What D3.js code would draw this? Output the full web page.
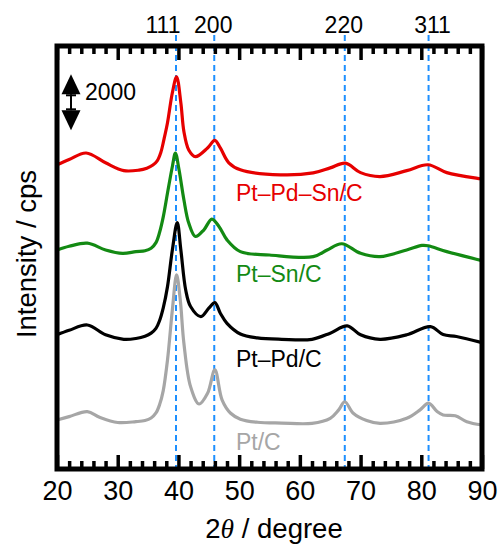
<!DOCTYPE html>
<html>
<head>
<meta charset="utf-8">
<script src="https://cdn.jsdelivr.net/npm/d3@7"></script>
<style>
  html, body { margin: 0; padding: 0; background: #fff; }
  svg { display: block; font-family: "Liberation Sans", Arial, sans-serif; }
</style>
</head>
<body>
<svg id="chart" width="502" height="547"></svg>
<script>
// XRD patterns, [2θ (degree), intensity (cps)] pairs, before stacking offsets
const ptC = [[20,1750],[22,1870],[25,2050],[27,1850],[30,1660],[33,1690],[34.5,1730],[35.5,1820],[36.3,2000],[36.9,2300],[37.5,2800],[38.2,3890],[39,5680],[39.7,6930],[40.3,6040],[40.9,4490],[42,2940],[43.4,2320],[44.8,2700],[46,3540],[47.2,2460],[48.6,1990],[50.2,1780],[53,1670],[57,1640],[62,1630],[65,1810],[66.4,2110],[67.4,2400],[68.8,1990],[71,1730],[73.2,1630],[77.6,1810],[79.8,2110],[81.2,2350],[82.6,2050],[83.6,1930],[85.6,1900],[87.5,1690],[90,1570]];
const ptPdC = [[20,1790],[22,1950],[25,2140],[28,1790],[31,1630],[33,1660],[34.5,1740],[35.5,1850],[36.3,2020],[36.9,2300],[37.5,2750],[38.2,3510],[39,4820],[39.8,5800],[40.4,4820],[41.2,3390],[42,2800],[43.7,2440],[45,2740],[46,2940],[46.9,2560],[48,2200],[50.2,1820],[53,1680],[57,1630],[62,1630],[65,1850],[67.8,2110],[70,1790],[73.2,1630],[77.6,1790],[81.5,2080],[83.6,1800],[85.8,1730],[90,1510]];
const ptSnC = [[20,1820],[22,1950],[25,2060],[28,1820],[30.8,1700],[33,1760],[34.5,1790],[35.5,1880],[36.3,2080],[36.9,2450],[37.5,3000],[38.2,3850],[39,4800],[39.5,5280],[40.1,4680],[40.9,3610],[41.7,2780],[42.8,2300],[44.2,2540],[45.5,2920],[46.7,2650],[48,2180],[50.2,1760],[55,1640],[62.2,1580],[64.5,1820],[66.9,2040],[70,1700],[73.2,1580],[77.6,1820],[80.1,1980],[81.1,1970],[84.2,1760],[90,1440]];
const ptPdSnC = [[20,1860],[22,2050],[24.8,2280],[28,1930],[31,1650],[33.5,1670],[34.8,1740],[35.8,1850],[36.5,2000],[37.1,2300],[37.6,2750],[38.2,3360],[39,4430],[39.7,5000],[40.4,4070],[40.9,3050],[41.7,2390],[42.8,2150],[44.8,2460],[46,2730],[46.9,2460],[48.3,1930],[50.2,1680],[56.8,1500],[62.2,1570],[65,1750],[67.5,1920],[70,1580],[73.2,1440],[77.6,1650],[81.1,1860],[84.2,1580],[89.7,1360],[90,1350]];

const sampleNames = ["Pt/C", "Pt–Pd/C", "Pt–Sn/C", "Pt–Pd–Sn/C"];
const sampleData = [ptC, ptPdC, ptSnC, ptPdSnC];
const stackOffsets = [0, 3000, 6000, 9000];   // cps added to each pattern
const sampleColors = ["#a6a6a6", "#000000", "#138a13", "#e60000"];

// reflection positions of fcc Pt
const reflLabels = ["111", "200", "220", "311"];
const reflAngles = [39.6, 45.9, 67.4, 81.2];

const xTicks = [20, 30, 40, 50, 60, 70, 80, 90];
const scaleBarCps = 2000;

const svg = d3.select("#chart");
const plotL = 57, plotR = 482, plotT = 46, plotB = 469;

const x = d3.scaleLinear().domain([20, 90]).range([plotL, plotR]);
const y = d3.scaleLinear().domain([0, 15100]).range([plotB, plotT]);

// dashed reflection markers
svg.append("g").selectAll("line")
  .data(reflAngles)
  .join("line")
  .attr("x1", d => x(d)).attr("x2", d => x(d))
  .attr("y1", 35).attr("y2", plotB + 2)
  .attr("stroke", "#1e90ff")
  .attr("stroke-width", 2)
  .attr("stroke-dasharray", "6,4");

const labelShift = { "111": -13, "200": -1, "220": -1, "311": 4 };
svg.append("g").selectAll("text")
  .data(reflLabels)
  .join("text")
  .attr("x", (d, i) => x(reflAngles[i]) + labelShift[d])
  .attr("y", 33)
  .attr("text-anchor", "middle")
  .attr("font-size", 23)
  .text(d => d);

// patterns
const line = d3.line()
  .x(d => x(d[0]))
  .y(d => d.yv)
  .curve(d3.curveCatmullRom.alpha(0.5));

sampleData.forEach((series, i) => {
  const pts = series.map(p => { const q = [p[0], p[1]]; q.yv = y(p[1] + stackOffsets[i]); return q; });
  svg.append("path")
    .attr("d", line(pts))
    .attr("fill", "none")
    .attr("stroke", sampleColors[i])
    .attr("stroke-width", 3.2)
    .attr("stroke-linejoin", "round");
});

// sample labels
const labelBaselines = [450, 366.5, 281.5, 201];
svg.append("g").selectAll("text")
  .data(sampleNames)
  .join("text")
  .attr("x", 236)
  .attr("y", (d, i) => labelBaselines[i])
  .attr("font-size", 23)
  .attr("fill", (d, i) => sampleColors[i])
  .text(d => d);

// ticks: major every 10°, minor every 2°, pointing inward on top and bottom
const minor = d3.range(22, 90, 2).filter(v => v % 10 !== 0);
const bottomAxis = d3.axisBottom(x).tickValues(xTicks).tickSize(-14).tickPadding(12);
const gB = svg.append("g").attr("transform", `translate(0,${plotB})`).call(bottomAxis);
gB.select(".domain").remove();
gB.selectAll("line").attr("stroke-width", 3.5);
gB.selectAll("text").attr("font-size", 27).attr("fill", "#000")
  .attr("font-family", "'Liberation Sans', Arial, sans-serif");

const gBm = svg.append("g").attr("transform", `translate(0,${plotB})`)
  .call(d3.axisBottom(x).tickValues(minor).tickSize(-8).tickFormat(""));
gBm.select(".domain").remove();
gBm.selectAll("line").attr("stroke-width", 3.5);

const gT = svg.append("g").attr("transform", `translate(0,${plotT})`)
  .call(d3.axisTop(x).tickValues(xTicks).tickSize(-14).tickFormat(""));
gT.select(".domain").remove();
gT.selectAll("line").attr("stroke-width", 3.5);
const gTm = svg.append("g").attr("transform", `translate(0,${plotT})`)
  .call(d3.axisTop(x).tickValues(minor).tickSize(-8).tickFormat(""));
gTm.select(".domain").remove();
gTm.selectAll("line").attr("stroke-width", 3.5);

// frame
svg.append("rect")
  .attr("x", plotL).attr("y", plotT)
  .attr("width", plotR - plotL).attr("height", plotB - plotT)
  .attr("fill", "none").attr("stroke", "#000").attr("stroke-width", 5);

// intensity scale bar
const barX = 71;
const barTop = y(14090), barBot = y(14090 - scaleBarCps);
const head = 20, headHalf = 9.5;
const bar = svg.append("g");
bar.append("path")
  .attr("d", `M${barX},${barTop} L${barX + headHalf},${barTop + head} L${barX - headHalf},${barTop + head} Z`)
  .attr("fill", "#000");
bar.append("path")
  .attr("d", `M${barX},${barBot} L${barX + headHalf},${barBot - head} L${barX - headHalf},${barBot - head} Z`)
  .attr("fill", "#000");
bar.append("line")
  .attr("x1", barX).attr("x2", barX)
  .attr("y1", barTop + head).attr("y2", barBot - head)
  .attr("stroke", "#000").attr("stroke-width", 2);
[barTop + head + 1, barBot - head - 1].forEach(v => {
  bar.append("line")
    .attr("x1", barX - 5).attr("x2", barX + 5)
    .attr("y1", v).attr("y2", v)
    .attr("stroke", "#000").attr("stroke-width", 2);
});
bar.append("text")
  .attr("x", 85).attr("y", 99.5)
  .attr("font-size", 23)
  .text(String(scaleBarCps));

// axis titles
const xt = svg.append("text")
  .attr("x", 274).attr("y", 538)
  .attr("text-anchor", "middle")
  .attr("font-size", 27.5);
xt.append("tspan").text("2");
xt.append("tspan")
  .attr("font-family", "'Liberation Serif', 'DejaVu Serif', serif")
  .attr("font-style", "italic")
  .text("θ");
xt.append("tspan").text(" / degree");

svg.append("text")
  .attr("transform", "translate(36,254) rotate(-90)")
  .attr("text-anchor", "middle")
  .attr("font-size", 27.5)
  .text("Intensity / cps");
</script>
</body>
</html>
